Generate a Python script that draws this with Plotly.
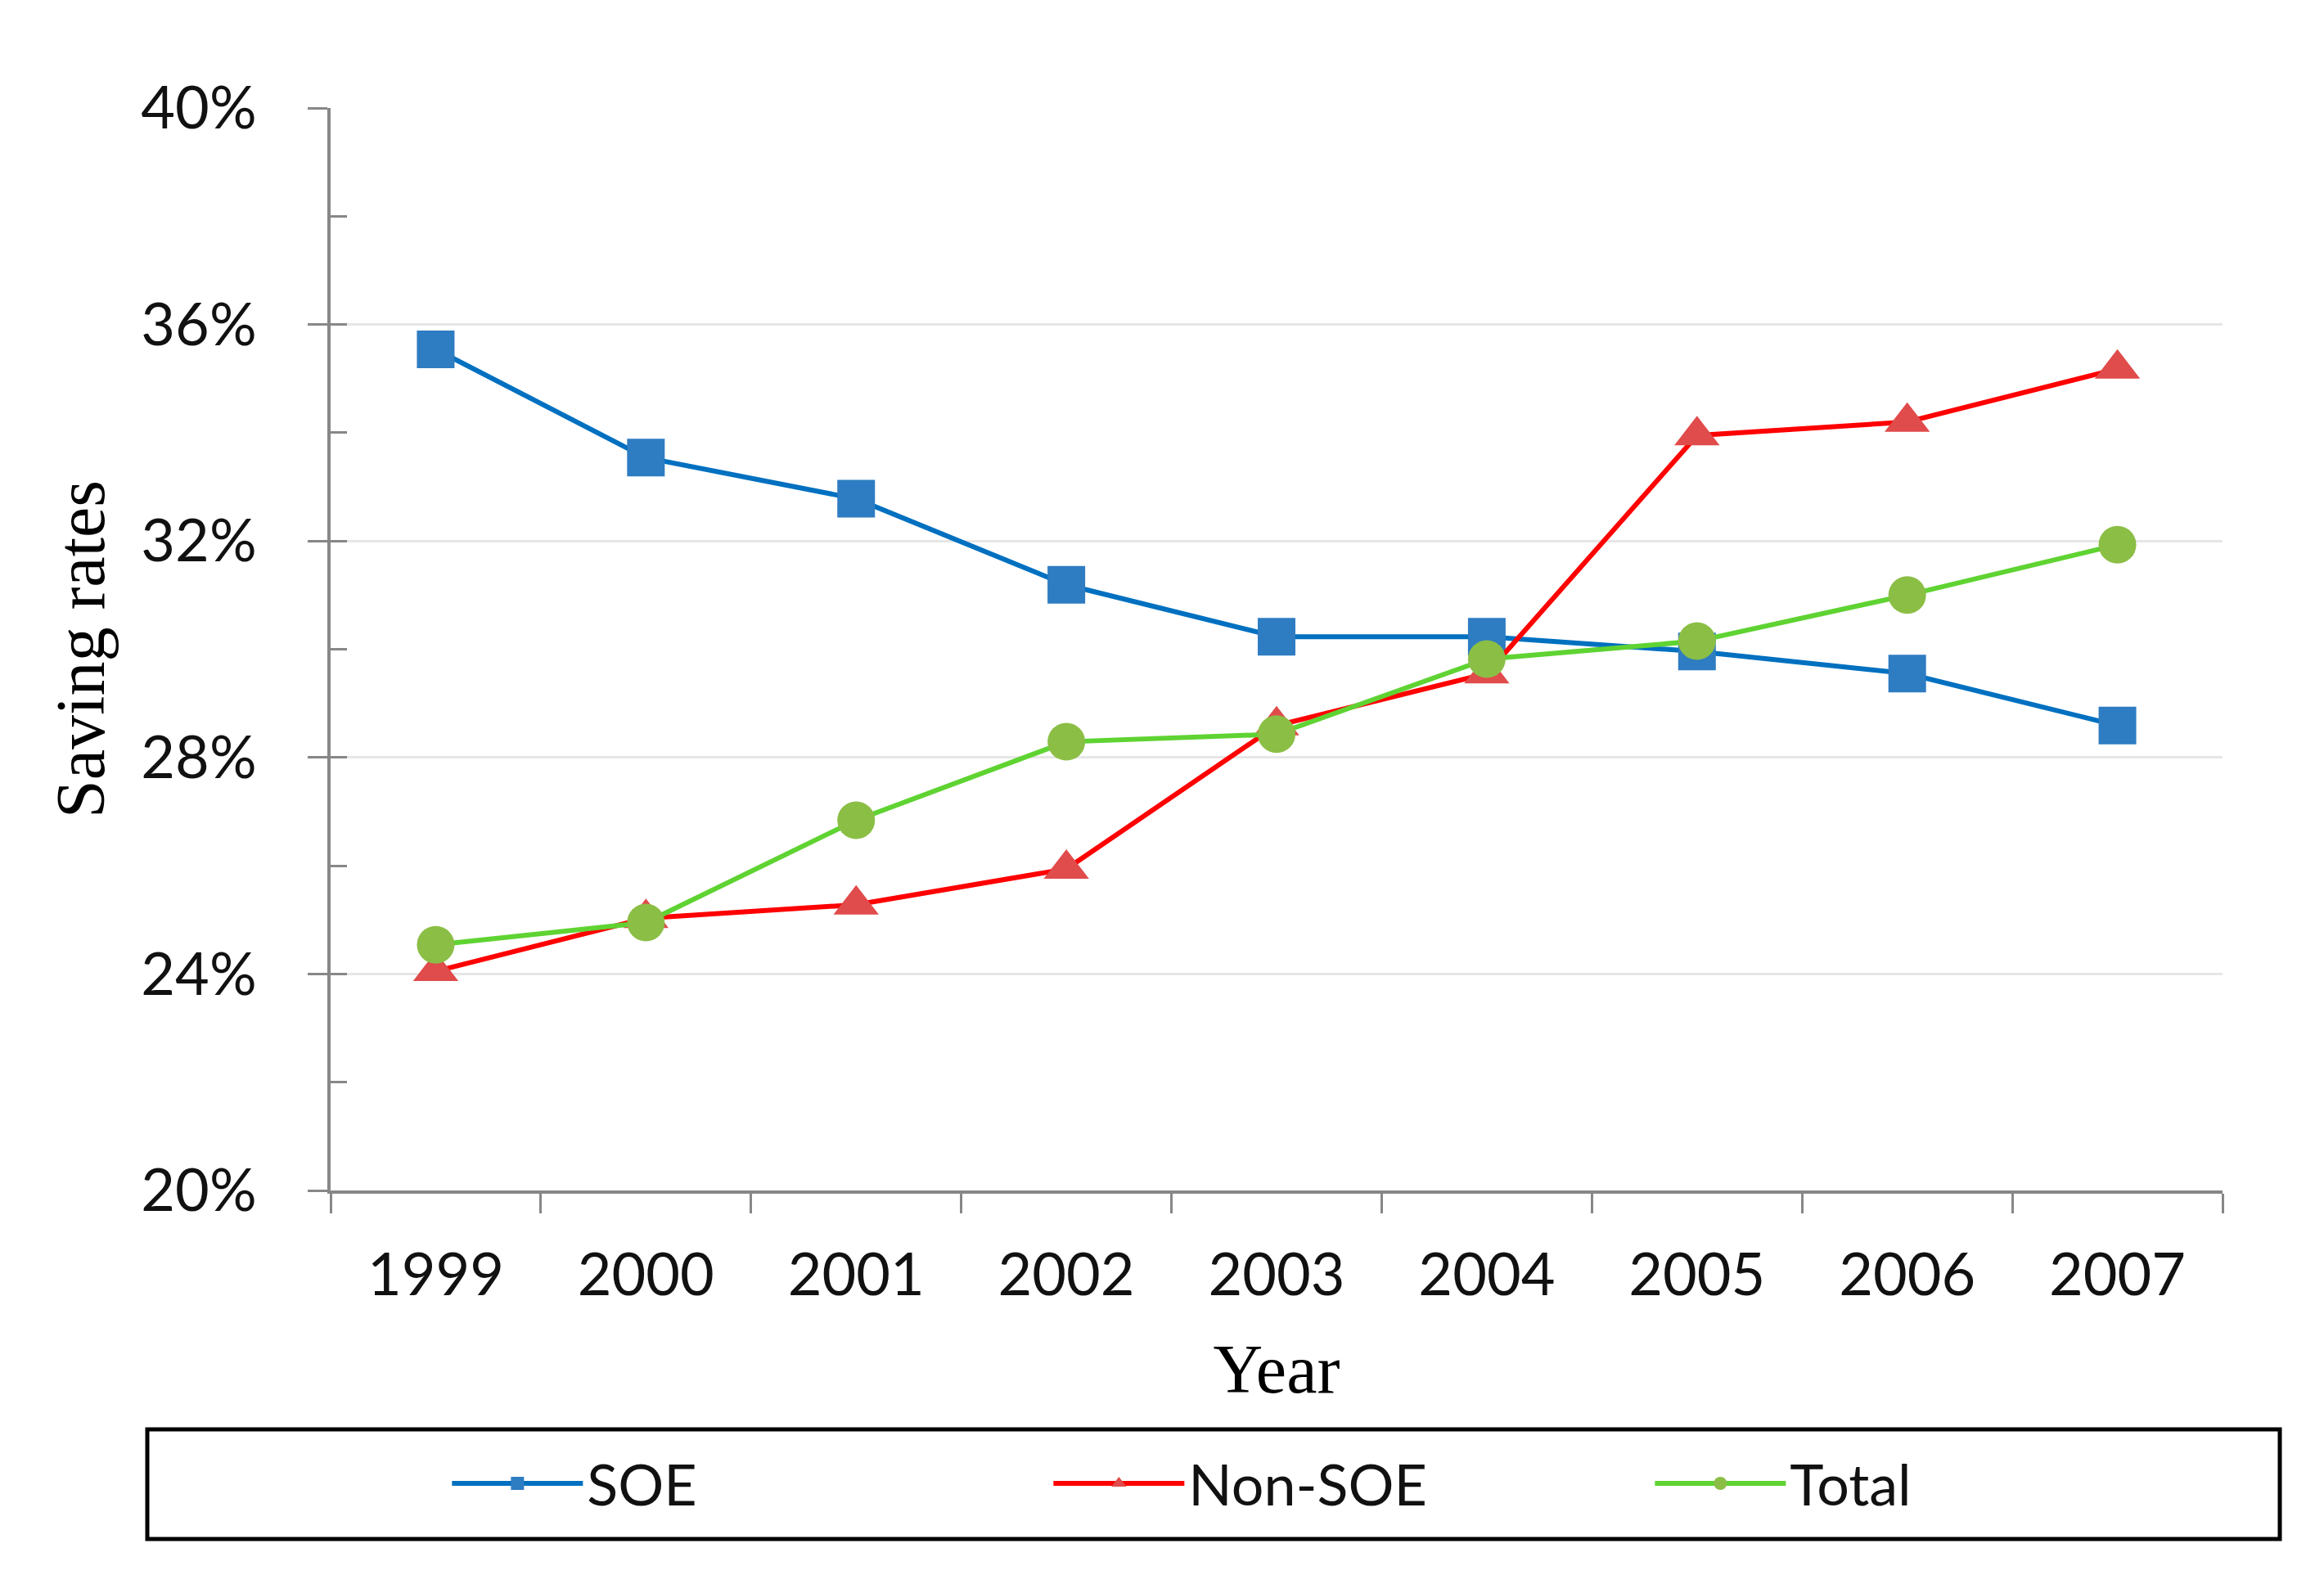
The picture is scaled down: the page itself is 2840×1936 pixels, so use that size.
import plotly.graph_objects as go

years = ["1999", "2000", "2001", "2002", "2003", "2004", "2005", "2006", "2007"]
soe = [0.3554, 0.3354, 0.3278, 0.3119, 0.3023, 0.3023, 0.2996, 0.2955, 0.2859]
non_soe = [0.2405, 0.2503, 0.2528, 0.2594, 0.2859, 0.2955, 0.3395, 0.3420, 0.3518]
total = [0.2454, 0.2495, 0.2684, 0.2829, 0.2843, 0.2982, 0.3015, 0.3100, 0.3193]

W, H = 2840, 1936
L, R, T, B = 396, 2840 - 2708, 124, 1936 - 1447
PW, PH = W - L - R, H - T - B

AX = "#878787"
fig = go.Figure()

fig.add_trace(go.Scatter(
    x=years, y=soe, name="SOE", mode="lines+markers",
    line=dict(color="#0070C0", width=6),
    marker=dict(symbol="square", size=46, color="#2E7CC2", line=dict(width=0)),
))
fig.add_trace(go.Scatter(
    x=years, y=non_soe, name="Non-SOE", mode="lines+markers",
    line=dict(color="#FF0000", width=6),
    marker=dict(symbol="triangle-up", size=48, color="#E04B4B", line=dict(width=0)),
))
fig.add_trace(go.Scatter(
    x=years, y=total, name="Total", mode="lines+markers",
    line=dict(color="#5FD332", width=6),
    marker=dict(symbol="circle", size=46, color="#8BBE45", line=dict(width=0)),
))
# overlay axis for inside minor ticks
fig.add_trace(go.Scatter(x=[years[0]], y=[None], yaxis="y2", showlegend=False, hoverinfo="skip"))

fig.update_layout(
    width=W, height=H,
    margin=dict(l=L, r=R, t=T, b=B, autoexpand=False),
    paper_bgcolor="white", plot_bgcolor="white",
    font=dict(family="Lato", color="#000000"),
    xaxis=dict(
        type="category", categoryorder="array", categoryarray=years,
        range=[-0.5, 8.5],
        showgrid=False, zeroline=False,
        showline=True, linecolor=AX, linewidth=4,
        ticks="outside", tickson="boundaries", ticklen=24, tickwidth=3, tickcolor=AX,
        tickfont=dict(family="Lato", size=72, color="#111111"),
        ticklabelstandoff=38,
        title=dict(text="Year", font=dict(family="Liberation Serif", size=84, color="#000000"), standoff=47),
    ),
    yaxis=dict(
        range=[0.20, 0.40], dtick=0.04, tick0=0.20, tickformat=".0%",
        showgrid=True, gridcolor="#E6E6E6", gridwidth=3, zeroline=False,
        showline=True, linecolor=AX, linewidth=4,
        ticks="outside", ticklen=24, tickwidth=3, tickcolor=AX,
        tickfont=dict(family="Lato", size=72, color="#111111"),
        ticklabelstandoff=48,
        title=dict(text="Saving rates", font=dict(family="Liberation Serif", size=84, color="#000000"), standoff=18),
    ),
    yaxis2=dict(
        overlaying="y", side="left", range=[0.20, 0.40], dtick=0.02, tick0=0.20,
        showgrid=False, zeroline=False, showline=False, showticklabels=False,
        ticks="inside", ticklen=20, tickwidth=3, tickcolor=AX,
    ),
    showlegend=True,
    legend=dict(
        orientation="h", x=0.062, xanchor="left", y=(1447 - 1805) / PH, yanchor="middle",
        font=dict(family="Lato", size=70, color="#111111"),
        itemwidth=160, entrywidth=560, entrywidthmode="pixels",
        bgcolor="rgba(0,0,0,0)", borderwidth=0,
    ),
    shapes=[dict(
        type="rect", xref="paper", yref="paper",
        x0=(172 - L) / PW, x1=(2778 - L) / PW,
        y0=(1447 - 1873) / PH, y1=(1447 - 1739) / PH,
        line=dict(color="#000000", width=5), fillcolor="rgba(0,0,0,0)", layer="below",
    )],
)

fig.write_html("out.html")
